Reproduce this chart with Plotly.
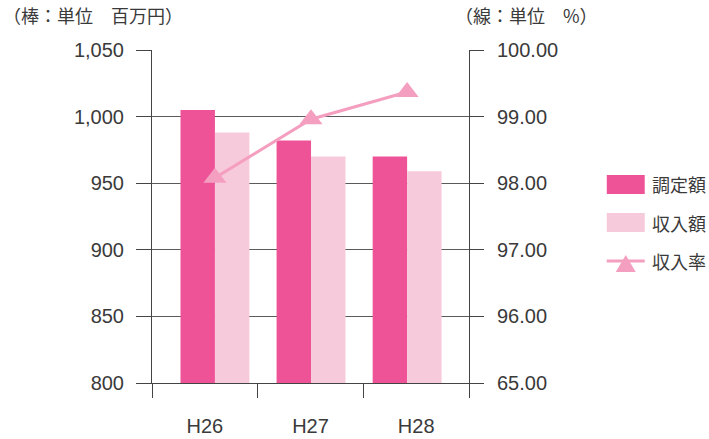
import plotly.graph_objects as go

categories = ["H26", "H27", "H28"]
chotei = [1005, 982, 970]        # 調定額 (百万円)
shunyu = [988, 970, 959]         # 収入額 (百万円)
ritsu = [98.08, 98.96, 99.37]    # 収入率 (%)
series_names = ["調定額", "収入額", "収入率"]

left_ticks = [800, 850, 900, 950, 1000, 1050]
right_tickvals = [95, 96, 97, 98, 99, 100]
right_ticktext = ["65.00", "96.00", "97.00", "98.00", "99.00", "100.00"]

DARK = "#EE5398"
LIGHT = "#F7CADB"
LINE = "#F49FC0"
AX = "#444444"
TXT = "#3a3a3a"
NUM_FONT = dict(family="Liberation Sans, Arial, sans-serif", size=20, color=TXT)
JP_FONT = "Noto Sans CJK JP"

W, H = 709, 439
ML, MR, MT, MB = 151.5, 240, 50, 56
PW = W - ML - MR
PH = H - MT - MB


def px(x):  # pixel -> paper x
    return (x - ML) / PW


def py(y):  # pixel -> paper y
    return 1 - (y - MT) / PH


fig = go.Figure()
fig.add_trace(go.Bar(x=categories, y=chotei, name=series_names[0],
                     marker=dict(color=DARK, line=dict(width=0))))
fig.add_trace(go.Bar(x=categories, y=shunyu, name=series_names[1],
                     marker=dict(color=LIGHT, line=dict(width=0))))
fig.add_trace(go.Scatter(x=categories, y=ritsu, name=series_names[2], yaxis="y2", mode="lines+markers",
                         line=dict(color=LINE, width=3),
                         marker=dict(symbol="triangle-up", size=20, color=LINE)))
# helper traces so the boundary tick axis and the label axis are drawn
fig.add_trace(go.Scatter(x=[0, 3], y=[800, 800], xaxis="x2", mode="markers",
                         marker=dict(opacity=0), showlegend=False, hoverinfo="skip"))
fig.add_trace(go.Scatter(x=[0, 3], y=[800, 800], xaxis="x3", mode="markers",
                         marker=dict(opacity=0), showlegend=False, hoverinfo="skip"))

# legend keys (drawn as shapes so they can be large like the original)
lx0, lx1, lxc = 607, 645, 626
rows = [184.5, 222.5, 261]
shapes = [
    dict(type="rect", xref="paper", yref="paper", x0=px(lx0), x1=px(lx1),
         y0=py(rows[0] - 9.5), y1=py(rows[0] + 9.5), fillcolor=DARK, line=dict(width=0), layer="above"),
    dict(type="rect", xref="paper", yref="paper", x0=px(lx0), x1=px(lx1),
         y0=py(rows[1] - 9.5), y1=py(rows[1] + 9.5), fillcolor=LIGHT, line=dict(width=0), layer="above"),
    dict(type="line", xref="paper", yref="paper", x0=px(lx0), x1=px(lx1),
         y0=py(rows[2]), y1=py(rows[2]), line=dict(color=LINE, width=3), layer="above"),
    dict(type="path", xref="paper", yref="paper",
         path=f"M {px(lxc - 10)} {py(rows[2] + 11)} L {px(lxc + 10)} {py(rows[2] + 11)} "
              f"L {px(lxc)} {py(rows[2] - 6)} Z",
         fillcolor=LINE, line=dict(width=0), layer="above"),
]

annotations = [
    dict(text="（棒：単位　百万円）", xref="paper", yref="paper", x=px(0), y=py(15),
         xanchor="left", yanchor="middle", showarrow=False, font=dict(family=JP_FONT, size=18, color=TXT)),
    dict(text="（線：単位　%）", xref="paper", yref="paper", x=px(453), y=py(15),
         xanchor="left", yanchor="middle", showarrow=False, font=dict(family=JP_FONT, size=18, color=TXT)),
]
for name, ry in zip(series_names, rows):
    annotations.append(dict(text=name, xref="paper", yref="paper", x=px(650), y=py(ry),
                            xanchor="left", yanchor="middle", showarrow=False,
                            font=dict(family=JP_FONT, size=18, color=TXT)))

fig.update_layout(
    width=W, height=H,
    margin=dict(l=ML, r=MR, t=MT, b=MB, autoexpand=False),
    paper_bgcolor="white", plot_bgcolor="white",
    barmode="group", bargap=0.283, bargroupgap=0,
    font=dict(family=JP_FONT, size=16, color=TXT),
    showlegend=False,
    xaxis=dict(type="category", range=[-0.655, 2.644], showticklabels=False, ticks="",
               showgrid=False, showline=True, linecolor=AX, linewidth=1, zeroline=False,
               automargin=False),
    xaxis2=dict(overlaying="x", anchor="y", range=[0, 3], tickvals=[0, 1, 2, 3],
                ticktext=["", "", "", ""], ticks="outside", ticklen=14, tickcolor=AX, tickwidth=1,
                showgrid=False, showline=False, zeroline=False, side="bottom", automargin=False),
    xaxis3=dict(overlaying="x", anchor="y", range=[0, 3], tickvals=[0.5, 1.5, 2.5],
                ticktext=categories, ticks="", showgrid=False, showline=False, zeroline=False,
                side="bottom", tickfont=NUM_FONT, ticklabelstandoff=29, automargin=False),
    yaxis=dict(range=[800, 1050], tickvals=left_ticks, tickformat=",d", tickfont=NUM_FONT,
               ticks="outside", ticklen=15, tickcolor=AX, tickwidth=1, ticklabelstandoff=8,
               showgrid=True, gridcolor="#5a5a5a", gridwidth=1, automargin=False,
               showline=True, linecolor=AX, linewidth=1, zeroline=False),
    yaxis2=dict(range=[95, 100], overlaying="y", side="right", tickvals=right_tickvals,
                ticktext=right_ticktext, tickfont=NUM_FONT, ticks="outside", ticklen=14,
                tickcolor=AX, tickwidth=1, ticklabelstandoff=9, showgrid=False, automargin=False,
                showline=True, linecolor=AX, linewidth=1, zeroline=False),
    shapes=shapes,
    annotations=annotations,
)

fig.write_html("out.html", config={"displayModeBar": False},
               post_script="document.body.style.margin='0px';document.body.style.overflow='hidden';")
